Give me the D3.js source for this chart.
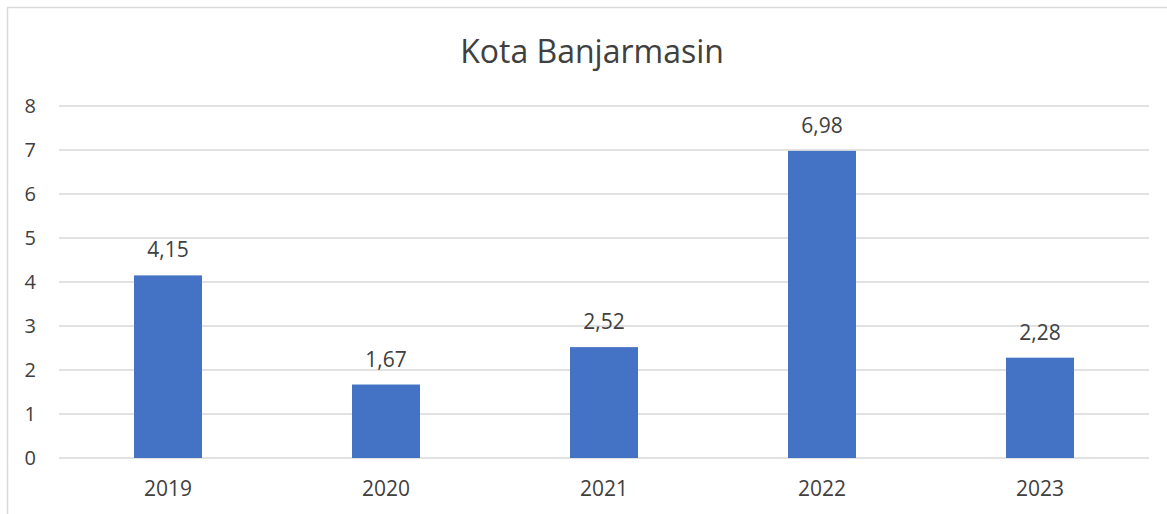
<!DOCTYPE html>
<html>
<head>
<meta charset="utf-8">
<script src="https://cdn.jsdelivr.net/npm/d3@7"></script>
<style>
    body { margin: 0; background: #fff; }
    svg text { font-family: "Open Sans", sans-serif; fill: #404040; }
</style>
</head>
<body>
<div id="chart"></div>
<script>
var years = ['2019', '2020', '2021', '2022', '2023']
var values = [4.15, 1.67, 2.52, 6.98, 2.28]
var labels = ['4,15', '1,67', '2,52', '6,98', '2,28']
var yTicks = [0, 1, 2, 3, 4, 5, 6, 7, 8]
var title = 'Kota Banjarmasin'

var width = 1167
var height = 514
var plot = {left: 59, right: 1149, top: 106, bottom: 458}

var svg = d3.select('#chart').append('svg')
    .attr('width', width)
    .attr('height', height)

// chart area border (only left and top edges are visible in the frame)
svg.append('rect')
    .attr('x', 7.5)
    .attr('y', 7.5)
    .attr('width', width + 20)
    .attr('height', height + 20)
    .attr('fill', 'none')
    .attr('stroke', '#d9d9d9')
    .attr('stroke-width', 1.5)

var x = d3.scaleBand()
    .domain(years)
    .range([plot.left, plot.right])
    .paddingInner(0.688)
    .paddingOuter(0.344)

var y = d3.scaleLinear()
    .domain([0, 8])
    .range([plot.bottom, plot.top])

// gridlines
svg.append('g')
    .selectAll('line')
    .data(yTicks)
    .enter().append('line')
    .attr('x1', plot.left)
    .attr('x2', plot.right)
    .attr('y1', function(d) { return y(d) })
    .attr('y2', function(d) { return y(d) })
    .attr('stroke', '#d9d9d9')
    .attr('stroke-width', 1.5)

// y axis labels
svg.append('g')
    .selectAll('text')
    .data(yTicks)
    .enter().append('text')
    .attr('x', 36)
    .attr('y', function(d) { return y(d) + 7 })
    .attr('text-anchor', 'end')
    .style('font-size', '20px')
    .text(function(d) { return d })

// bars
svg.append('g')
    .selectAll('rect')
    .data(values)
    .enter().append('rect')
    .attr('x', function(d, i) { return x(years[i]) })
    .attr('y', function(d) { return y(d) })
    .attr('width', x.bandwidth())
    .attr('height', function(d) { return y(0) - y(d) })
    .attr('fill', '#4472c4')

// data labels
svg.append('g')
    .selectAll('text')
    .data(values)
    .enter().append('text')
    .attr('x', function(d, i) { return x(years[i]) + x.bandwidth() / 2 })
    .attr('y', function(d) { return y(d) - 18 })
    .attr('text-anchor', 'middle')
    .style('font-size', '21px')
    .text(function(d, i) { return labels[i] })

// x axis labels
svg.append('g')
    .selectAll('text')
    .data(years)
    .enter().append('text')
    .attr('x', function(d) { return x(d) + x.bandwidth() / 2 })
    .attr('y', plot.bottom + 38)
    .attr('text-anchor', 'middle')
    .style('font-size', '21px')
    .text(function(d) { return d })

svg.append('text')
    .attr('x', 592)
    .attr('y', 63)
    .attr('text-anchor', 'middle')
    .style('font-size', '32px')
    .text(title)
</script>
</body>
</html>
